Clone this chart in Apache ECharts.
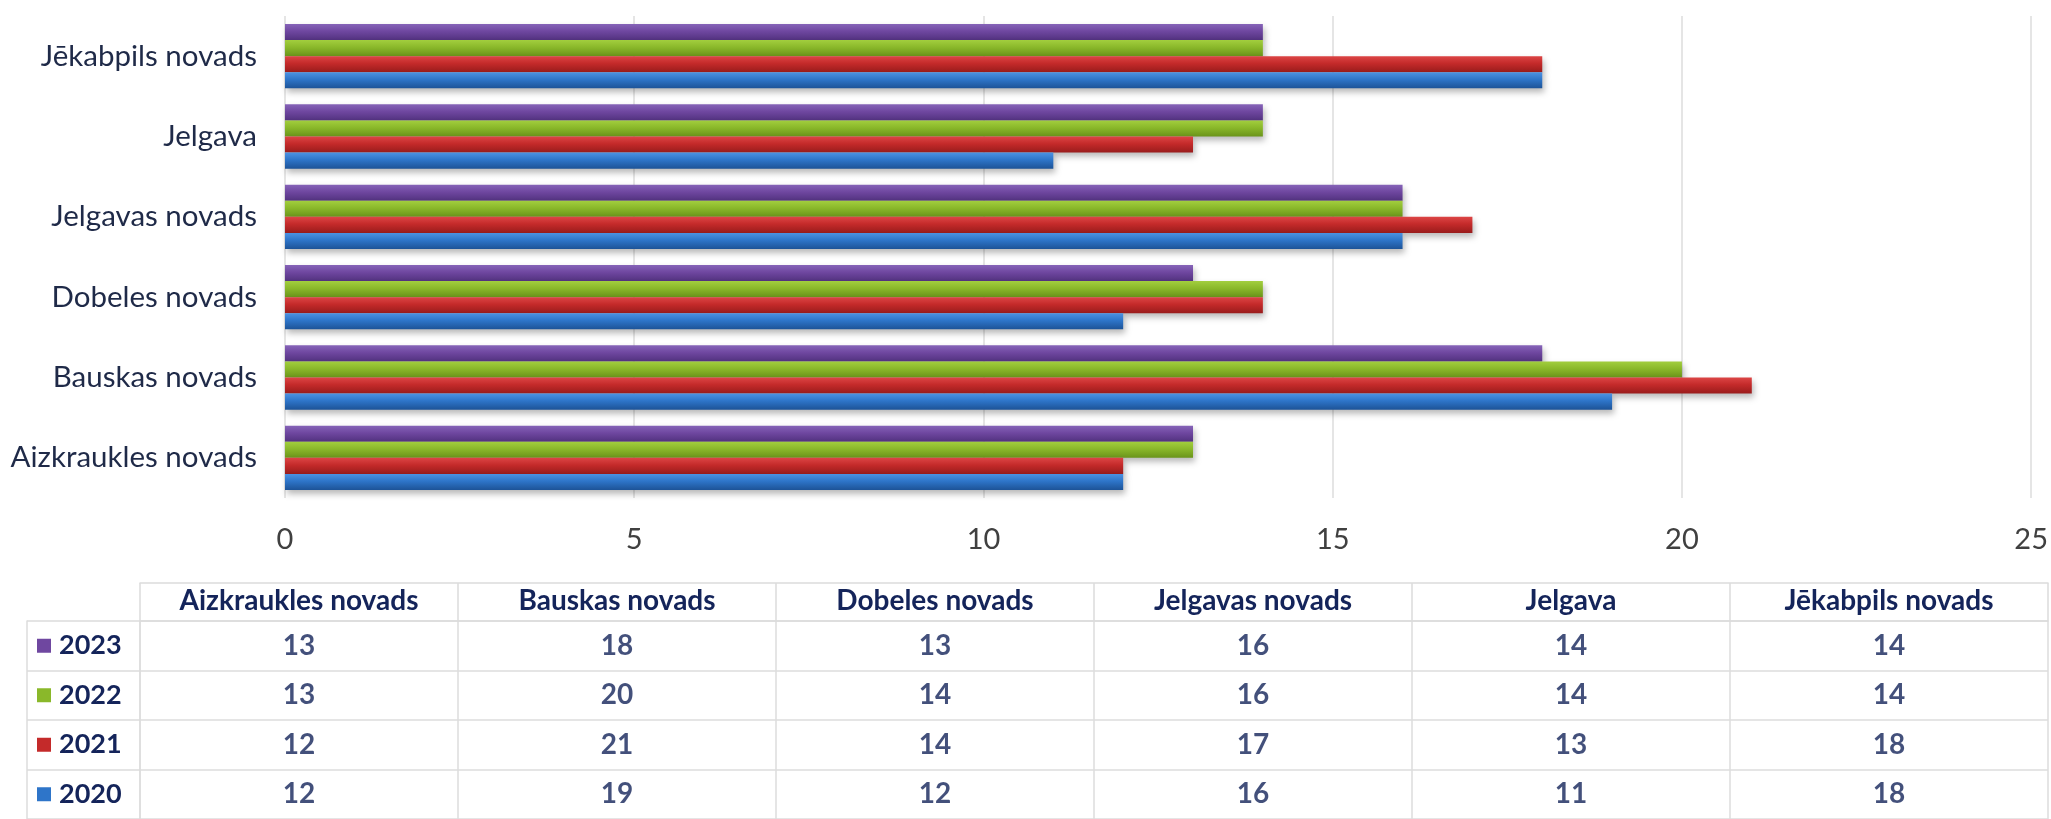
<!DOCTYPE html>
<html>
<head>
<meta charset="utf-8">
<script src="https://cdn.jsdelivr.net/npm/echarts@6/dist/echarts.min.js"></script>
<style>
html,body{margin:0;padding:0;background:#fff;}
#chart{width:2051px;height:819px;}
</style>
</head>
<body>
<div id="chart"></div>
<script>
// ---- data ----
var categories = ['Aizkraukles novads', 'Bauskas novads', 'Dobeles novads', 'Jelgavas novads', 'Jelgava', 'Jēkabpils novads'];
var years = ['2020', '2021', '2022', '2023'];
var values2020 = [12, 19, 12, 16, 11, 18];
var values2021 = [12, 21, 14, 17, 13, 18];
var values2022 = [13, 20, 14, 16, 14, 14];
var values2023 = [13, 18, 13, 16, 14, 14];
var xTicks = [0, 5, 10, 15, 20, 25];

// ---- styles ----
var seriesValues = { '2020': values2020, '2021': values2021, '2022': values2022, '2023': values2023 };
var baseColors = { '2020': '#2e75c9', '2021': '#c42a2a', '2022': '#8ab82a', '2023': '#6f47a0' };
var gradStops = {
  '2020': ['#4c92e2', '#2e75c9', '#1d5397'],
  '2021': ['#dc4545', '#c42a2a', '#991c1c'],
  '2022': ['#a2ce3e', '#8ab82a', '#6a941a'],
  '2023': ['#8664b8', '#6f47a0', '#52327f']
};
var navy = '#14245a';
var gridGray = '#dcdcdc';
var fontFam = 'Lato, "Open Sans", sans-serif';

function grad(y) {
  var s = gradStops[y];
  return new echarts.graphic.LinearGradient(0, 0, 0, 1, [
    { offset: 0, color: s[0] }, { offset: 0.45, color: s[1] }, { offset: 1, color: s[2] }
  ]);
}

var barOrder = ['2023', '2022', '2021', '2020']; // top to bottom within each group
var series = barOrder.map(function (y) {
  return {
    name: y,
    type: 'bar',
    xAxisIndex: 0,
    yAxisIndex: 0,
    data: seriesValues[y],
    barGap: '0%',
    barCategoryGap: '20%',
    itemStyle: {
      color: grad(y),
      shadowColor: 'rgba(0,0,0,0.28)',
      shadowBlur: 6,
      shadowOffsetX: 2,
      shadowOffsetY: 4
    },
    silent: true
  };
});

// table cells
var cellData = [];
years.forEach(function (y, ri) {
  categories.forEach(function (c, ci) {
    cellData.push([ci, ri, seriesValues[y][ci]]);
  });
});
series.push({
  type: 'scatter',
  xAxisIndex: 1,
  yAxisIndex: 1,
  data: cellData,
  encode: { x: 0, y: 1 },
  symbol: 'rect',
  symbolSize: 1,
  itemStyle: { color: 'rgba(0,0,0,0)' },
  label: {
    show: true,
    position: 'inside',
    formatter: function (p) { return String(p.value[2]); },
    fontFamily: fontFam,
    fontWeight: 'bold',
    fontSize: 28,
    color: navy
  },
  silent: true
});

var rich = { yr: { fontFamily: fontFam, fontWeight: 'bold', fontSize: 27, color: navy, padding: [0, 0, 0, 8], verticalAlign: 'middle' } };
years.forEach(function (y) {
  rich['sq' + y] = { width: 14, height: 14, backgroundColor: baseColors[y], verticalAlign: 'middle' };
});

var option = {
  animation: false,
  backgroundColor: '#ffffff',
  grid: [
    { left: 285, right: 17, top: 16, height: 482, containLabel: false },
    { left: 140, right: 3, top: 621, height: 198, containLabel: false }
  ],
  xAxis: [
    {
      type: 'value', gridIndex: 0, min: xTicks[0], max: xTicks[xTicks.length - 1], interval: 5,
      axisLine: { show: false }, axisTick: { show: false },
      splitLine: { show: true, lineStyle: { color: gridGray, width: 1.5 } },
      axisLabel: { fontFamily: fontFam, fontSize: 29, color: '#404040', margin: 27 }
    },
    {
      type: 'category', gridIndex: 1, data: categories, position: 'top',
      axisLine: { show: true, lineStyle: { color: gridGray, width: 1.5 } },
      axisTick: { show: true, length: 38, inside: false, lineStyle: { color: gridGray, width: 1.5 } },
      axisLabel: { interval: 0, fontFamily: fontFam, fontWeight: 'bold', fontSize: 28, color: navy, margin: 6 },
      splitLine: { show: true, lineStyle: { color: gridGray, width: 1.5 } }
    },
    {
      type: 'category', gridIndex: 1, data: categories, position: 'top', offset: 38,
      axisLine: { show: true, lineStyle: { color: gridGray, width: 1.5 } },
      axisTick: { show: false }, axisLabel: { show: false }, splitLine: { show: false }
    }
  ],
  yAxis: [
    {
      type: 'category', gridIndex: 0, data: categories,
      axisLine: { show: false }, axisTick: { show: false },
      axisLabel: { fontFamily: fontFam, fontSize: 29.5, color: '#1f2a48', margin: 28 }
    },
    {
      type: 'category', gridIndex: 1, data: years,
      axisLine: { show: true, lineStyle: { color: gridGray, width: 1.5 } },
      axisTick: { show: true, length: 113, inside: false, lineStyle: { color: gridGray, width: 1.5 } },
      splitLine: { show: true, lineStyle: { color: gridGray, width: 1.5 } },
      axisLabel: {
        align: 'left', margin: 103, rich: rich,
        formatter: function (v) { return '{sq' + v + '|}{yr|' + v + '}'; }
      }
    },
    {
      type: 'category', gridIndex: 1, data: years, position: 'left', offset: 113,
      axisLine: { show: true, lineStyle: { color: gridGray, width: 1.5 } },
      axisTick: { show: false }, axisLabel: { show: false }, splitLine: { show: false }
    }
  ],
  series: series
};

var chart = echarts.init(document.getElementById('chart'), null, { renderer: 'canvas' });
chart.setOption(option);
</script>
</body>
</html>
